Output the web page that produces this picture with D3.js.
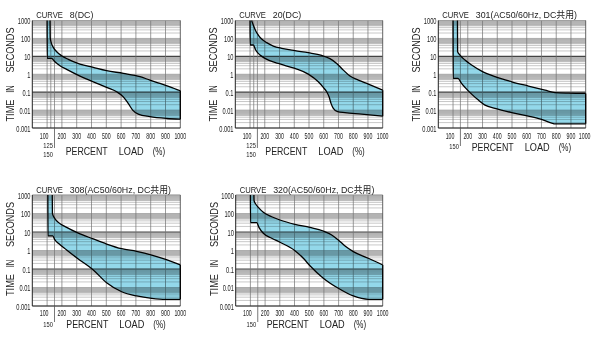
<!DOCTYPE html>
<html>
<head>
<meta charset="utf-8">
<script src="https://cdn.jsdelivr.net/npm/d3@7"></script>
<style>
  html, body { margin: 0; padding: 0; background: #fff; }
  svg { display: block; }
</style>
</head>
<body>
<script>
// ---- axis ticks ----
const yTicks = [1000, 100, 10, 1, 0.1, 0.01, 0.001];
const yTickLabels = ["1000", "100", "10", "1", "0.1", "0.01", "0.001"];
const xTicks = [100, 200, 300, 400, 500, 600, 700, 800, 900, 1000];
const xTickLabels = ["100", "200", "300", "400", "500", "600", "700", "800", "900", "1000"];

// ---- panel titles ----
const curveNames = ["8", "20", "301", "308", "320"];
const curveNotes = ["(DC)", "(DC)", "(AC50/60Hz, DC共用)", "(AC50/60Hz, DC共用)", "(AC50/60Hz, DC共用)"];
const extraLoadTicks = [[125, 150], [125, 150], [150], [150], [150]];
const extraLoadLabels = [["125", "150"], ["125", "150"], ["150"], ["150"], ["150"]];

// ---- trip curves: [percent load, seconds] ----
const curve8Max = [[120, 1000], [121, 115], [126, 66], [142, 31.7], [165, 18], [198, 10.8], [243, 6.8], [322, 3.7],
  [412, 2.4], [502, 1.58], [615, 1.12], [728, 0.73], [795, 0.47], [863, 0.31], [930, 0.2], [1000, 0.12]];
const curve8Min = [[100, 1000], [101, 7.7], [130, 7.7], [153, 5], [187, 3], [232, 1.87], [322, 0.79], [412, 0.38],
  [502, 0.185], [570, 0.105], [615, 0.055], [649, 0.023], [678, 0.01], [716, 0.006], [795, 0.0043], [908, 0.0034], [1000, 0.0031]];

const curve20Max = [[111, 1000], [122, 560], [138, 270], [156, 155], [179, 93], [213, 58], [258, 37.6], [315, 27.9],
  [405, 20.6], [495, 15.9], [586, 11.3], [642, 7.4], [688, 4.0], [733, 1.7], [778, 0.79], [835, 0.47], [903, 0.28], [1000, 0.13]];
const curve20Min = [[100, 1000], [101, 43], [122, 43], [138, 22.5], [168, 11.8], [201, 7.7], [292, 4.0], [405, 2.1],
  [495, 1.02], [563, 0.38], [597, 0.185], [620, 0.105], [636, 0.055], [650, 0.023], [665, 0.0124], [694, 0.0082],
  [744, 0.0072], [857, 0.006], [1000, 0.0046]];

const curve301Max = [[130, 1000], [131, 18], [147, 11.8], [181, 6.2], [226, 3.3], [294, 1.5], [385, 0.73], [498, 0.38],
  [611, 0.22], [724, 0.13], [792, 0.095], [882, 0.088], [1000, 0.085]];
const curve301Min = [[100, 1000], [101, 0.59], [134, 0.59], [154, 0.34], [181, 0.185], [226, 0.078], [272, 0.036],
  [317, 0.019], [385, 0.0124], [498, 0.0072], [611, 0.0046], [701, 0.003], [769, 0.0019], [792, 0.0017], [1000, 0.0017]];

const curve308Max = [[135, 1000], [136, 102], [147, 62], [176, 33], [232, 17.8], [304, 9.2], [412, 4.2], [502, 2.24],
  [604, 1.25], [705, 0.9], [807, 0.57], [901, 0.33], [1000, 0.165]];
const curve308Min = [[105, 1000], [106, 6.1], [138, 6.1], [153, 3.7], [176, 2.45], [232, 1.07], [304, 0.38], [412, 0.089],
  [502, 0.018], [604, 0.0059], [705, 0.0035], [807, 0.0026], [901, 0.0023], [1000, 0.0023]];

const curve320Max = [[124, 1000], [125, 490], [136, 326], [154, 215], [188, 116], [245, 67], [301, 44.5], [403, 26],
  [505, 17.8], [596, 11.3], [653, 6.9], [698, 3.7], [744, 1.75], [800, 0.87], [902, 0.38], [1000, 0.165]];
const curve320Min = [[100, 1000], [101, 32], [143, 32], [158, 17.8], [188, 8.5], [245, 4.6], [301, 2.8], [403, 0.98],
  [460, 0.38], [505, 0.15], [596, 0.032], [698, 0.0091], [800, 0.0035], [902, 0.0023], [1000, 0.0023]];

const maxCurves = [curve8Max, curve20Max, curve301Max, curve308Max, curve320Max];
const minCurves = [curve8Min, curve20Min, curve301Min, curve308Min, curve320Min];

// ---- page layout ----
const W = 596, H = 338;
const row1 = { top: 20.5, bottom: 128, titleY: 17.5, tickY: 139.3 };
const row2 = { top: 195, bottom: 306, titleY: 192.5, tickY: 315.5 };
const panels = [
  Object.assign({ left: 32.3, right: 180.3, subY: [148.2, 157.4], dropEnd: 148, axisTitleY: 154.5, pctX: 33.4, edgeLabel: false }, row1),
  Object.assign({ left: 235.3, right: 382.7, subY: [148.2, 157.4], dropEnd: 148, axisTitleY: 154.5, pctX: 30, edgeLabel: false }, row1),
  Object.assign({ left: 438.3, right: 585.7, subY: [148.7], dropEnd: 146, axisTitleY: 151, pctX: 33.4, edgeLabel: true }, row1),
  Object.assign({ left: 32.3, right: 180.3, subY: [327], dropEnd: 322, axisTitleY: 328, pctX: 34, edgeLabel: false }, row2),
  Object.assign({ left: 235.7, right: 382.7, subY: [327], dropEnd: 322, axisTitleY: 328, pctX: 31, edgeLabel: false }, row2)
];

const FONT = "'Liberation Sans', Arial, 'Noto Sans CJK JP', sans-serif";

const svg = d3.select("body").append("svg")
  .attr("width", W).attr("height", H)
  .attr("viewBox", `0 0 ${W} ${H}`)
  .style("background", "#fff");

// squeeze text horizontally by a factor
function squeeze(sel, k) {
  sel.each(function () {
    const w = this.getComputedTextLength();
    d3.select(this).attr("textLength", w * k).attr("lengthAdjust", "spacingAndGlyphs");
  });
}
function fitWidth(sel, w) {
  sel.attr("textLength", w).attr("lengthAdjust", "spacingAndGlyphs");
}

const minorVals = [];
for (let e = -3; e <= 2; e++) for (let m = 2; m <= 9; m++) minorVals.push(m * Math.pow(10, e));
const bandTops = [1000, 100, 10, 1, 0.1, 0.01];

panels.forEach((p, i) => {
  const g = svg.append("g");
  const x = d3.scaleLinear().domain([0, 1000]).range([p.left, p.right]);
  const y = d3.scaleLog().domain([1000, 0.001]).range([p.top, p.bottom]);

  // shaded bands: each decade line down to half its value
  g.append("g").selectAll("rect").data(bandTops).join("rect")
    .attr("x", p.left).attr("width", p.right - p.left)
    .attr("y", d => y(d)).attr("height", d => y(d / 2) - y(d))
    .attr("fill", "#c8c8c8");

  // minor horizontal lines
  g.append("g").selectAll("line").data(minorVals).join("line")
    .attr("x1", p.left).attr("x2", p.right)
    .attr("y1", d => y(d)).attr("y2", d => y(d))
    .attr("stroke", "#a2a2a2").attr("stroke-width", 0.6);

  // decade lines
  g.append("g").selectAll("line").data(yTicks).join("line")
    .attr("x1", p.left).attr("x2", p.right)
    .attr("y1", d => y(d)).attr("y2", d => y(d))
    .attr("stroke", d => (d === 10 || d === 0.1) ? "#444" : "#999")
    .attr("stroke-width", d => (d === 10 || d === 0.1) ? 1.2 : 0.7);

  // vertical grid lines
  const vLines = xTicks.slice(0, -1).concat(extraLoadTicks[i]);
  g.append("g").selectAll("line").data(vLines).join("line")
    .attr("x1", d => x(d)).attr("x2", d => x(d))
    .attr("y1", p.top).attr("y2", p.bottom)
    .attr("stroke", "#727272").attr("stroke-width", 0.7);

  // band between the maximum and minimum trip curves
  const line = d3.line().x(d => x(d[0])).y(d => y(d[1])).curve(d3.curveMonotoneX);
  const upperPath = line(maxCurves[i]);
  const lowerPath = line(minCurves[i]);
  const clipId = "below-max-" + i;
  svg.append("clipPath").attr("id", clipId).append("path")
    .attr("d", upperPath + `L${p.right},${p.bottom}L${p.left},${p.bottom}L${p.left},${p.top}Z`);
  g.append("path")
    .attr("d", lowerPath + `L${p.right},${p.top}Z`)
    .attr("clip-path", `url(#${clipId})`)
    .attr("fill", "#93d8ea")
    .style("mix-blend-mode", "multiply");

  // frame
  g.append("line").attr("x1", p.left).attr("x2", p.right).attr("y1", p.top).attr("y2", p.top)
    .attr("stroke", "#9a9a9a").attr("stroke-width", 0.7);
  g.append("line").attr("x1", p.right).attr("x2", p.right).attr("y1", p.top).attr("y2", p.bottom)
    .attr("stroke", "#555").attr("stroke-width", 0.9);
  g.append("line").attr("x1", p.left).attr("x2", p.left).attr("y1", p.top).attr("y2", p.bottom)
    .attr("stroke", "#222").attr("stroke-width", 1);
  g.append("line").attr("x1", p.left).attr("x2", p.right).attr("y1", p.bottom).attr("y2", p.bottom)
    .attr("stroke", "#222").attr("stroke-width", 1);

  // curve outlines
  g.append("path").attr("d", upperPath).attr("fill", "none").attr("stroke", "#000").attr("stroke-width", 1.3);
  g.append("path").attr("d", lowerPath).attr("fill", "none").attr("stroke", "#000").attr("stroke-width", 1.3);
  const lastMax = maxCurves[i][maxCurves[i].length - 1];
  const lastMin = minCurves[i][minCurves[i].length - 1];
  g.append("line")
    .attr("x1", x(lastMax[0])).attr("x2", x(lastMin[0]))
    .attr("y1", y(lastMax[1])).attr("y2", y(lastMin[1]))
    .attr("stroke", "#000").attr("stroke-width", 1.3);

  // y tick labels
  g.append("g").selectAll("text").data(yTicks).join("text")
    .attr("x", p.left - 1.8).attr("y", d => y(d) + 3.8)
    .attr("text-anchor", "end")
    .attr("font-family", FONT).attr("font-size", 8.5).attr("fill", "#222")
    .text((d, j) => yTickLabels[j])
    .call(squeeze, 0.67);

  // x tick labels, drawn narrow (the last one on the page edge is right-aligned)
  const atEdge = d => p.edgeLabel && d === 1000;
  g.append("g").selectAll("text").data(xTicks).join("text")
    .attr("transform", d => {
      const tx = atEdge(d) ? x(d) + 4.8 : x(d) + (d === 100 ? -3 : 0);
      return `translate(${tx},${p.tickY}) scale(0.62,1)`;
    })
    .attr("text-anchor", d => atEdge(d) ? "end" : "middle")
    .attr("font-family", FONT).attr("font-size", 8.5).attr("fill", "#222")
    .text((d, j) => xTickLabels[j]);

  // extra load labels below the axis with a drop line
  const x150 = x(150);
  g.append("line").attr("x1", x150).attr("x2", x150).attr("y1", p.bottom).attr("y2", p.dropEnd)
    .attr("stroke", "#555").attr("stroke-width", 0.8);
  g.append("g").selectAll("text").data(extraLoadLabels[i]).join("text")
    .attr("x", x150 - 1.5).attr("y", (d, j) => p.subY[j])
    .attr("text-anchor", "end")
    .attr("font-family", FONT).attr("font-size", 7.8).attr("fill", "#222")
    .text(d => d)
    .call(squeeze, 0.74);

  // title
  g.append("text").attr("x", p.left + 4).attr("y", p.titleY)
    .attr("font-family", FONT).attr("font-size", 9.5).attr("fill", "#222")
    .text("CURVE").call(fitWidth, 26.6);
  g.append("text").attr("x", p.left + 37.5).attr("y", p.titleY)
    .attr("font-family", FONT).attr("font-size", 9.5).attr("fill", "#222")
    .text(curveNames[i] + curveNotes[i]).call(squeeze, 0.93);

  // x axis title
  const xWords = [["PERCENT", 0, 42], ["LOAD", 53, 25], ["(%)", 87, 12.5]];
  xWords.forEach(([t, dx, w]) => {
    g.append("text").attr("x", p.left + p.pctX + dx).attr("y", p.axisTitleY)
      .attr("font-family", FONT).attr("font-size", 10.5).attr("fill", "#222")
      .text(t).call(fitWidth, w);
  });

  // y axis title (rotated, words spread along the axis)
  const yWords = [["SECONDS", 29.5, 45], ["IN", 68.5, 7.5], ["TIME", 90, 22]];
  yWords.forEach(([t, cy, w]) => {
    const tx = p.left - 18.2, ty = p.top + cy;
    g.append("text")
      .attr("transform", `translate(${tx},${ty}) rotate(-90)`)
      .attr("text-anchor", "middle")
      .attr("font-family", FONT).attr("font-size", 11).attr("fill", "#222")
      .text(t).call(fitWidth, w);
  });
});
</script>
</body>
</html>
